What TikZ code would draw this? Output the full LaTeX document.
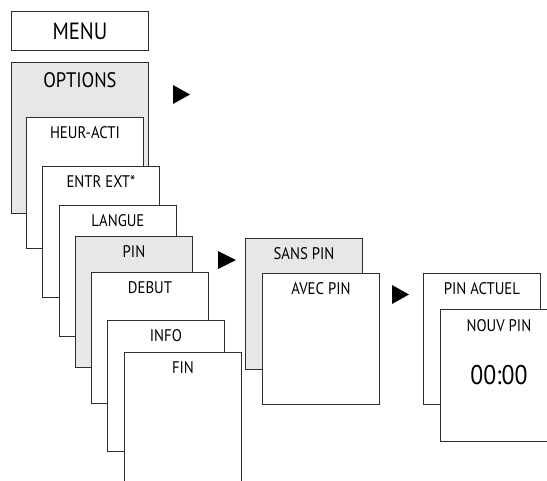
\documentclass[tikz,border=0pt]{standalone}
\usepackage{fontspec}
\setmainfont{PT Sans}[FakeStretch=0.88]
\definecolor{panel}{HTML}{E6E7E9}
\definecolor{edge}{HTML}{2E2E2E}
\begin{document}
\begin{tikzpicture}[x=1pt,y=-1pt,
  box/.style={draw=edge,line width=0.9pt,fill=white,rectangle,anchor=north west,inner sep=0pt,minimum width=117pt,minimum height=131pt},
  grey/.style={fill=panel},
  lbl/.style={font=\fontsize{16.8}{16.8}\selectfont,inner sep=0pt,anchor=center},
  tri/.style={fill=black}]
\useasboundingbox (0,0) rectangle (547,480);
\clip (0,0) rectangle (547,480);
% MENU
\node[box,minimum width=137pt,minimum height=39pt] (menu) at (11,11) {};
\node[font=\fontsize{23.5}{23.5}\selectfont,inner sep=0pt] (menut) at (menu.center) {MENU};
% OPTIONS stack
\node[box,grey,minimum width=137pt,minimum height=151pt] (opt) at (11,62) {};
\node[font=\fontsize{21}{21}\selectfont,inner sep=0pt] (optt) at ([yshift=-18pt]opt.north) {OPTIONS};
\node[box] (heur) at (26,117) {};
\node[lbl] (heurt) at ([yshift=-16pt]heur.north) {HEUR-ACTI};
\node[box] (entr) at (42,166) {};
\node[lbl] (entrt) at ([yshift=-16pt]entr.north) {ENTR EXT*};
\node[box] (lang) at (59,205) {};
\node[lbl] (langt) at ([yshift=-16pt]lang.north) {LANGUE};
\node[box,grey] (pin) at (75,236) {};
\node[lbl] (pint) at ([yshift=-16pt]pin.north) {PIN};
\node[box] (debut) at (91,272) {};
\node[lbl] (debutt) at ([yshift=-16pt]debut.north) {DEBUT};
\node[box] (info) at (107,320) {};
\node[lbl] (infot) at ([yshift=-16pt]info.north) {INFO};
\node[box] (fin) at (124,352) {};
\node[lbl] (fint) at ([yshift=-16pt]fin.north) {FIN};
% PIN submenu
\node[box,grey] (sans) at (245,238) {};
\node[lbl] (sanst) at ([yshift=-16pt]sans.north) {SANS PIN};
\node[box] (avec) at (262,273) {};
\node[lbl] (avect) at ([yshift=-16pt]avec.north) {AVEC PIN};
% PIN change
\node[box] (act) at (423,273) {};
\node[lbl] (actt) at ([yshift=-16pt]act.north) {PIN ACTUEL};
\node[box,minimum height=132pt] (nouv) at (440,309) {};
\node[lbl] (nouvt) at ([yshift=-17pt]nouv.north) {NOUV PIN};
\node[font=\fontsize{27}{27}\selectfont,inner sep=0pt] (time) at ([yshift=-66pt]nouv.north) {00:00};
% arrow markers
\fill[tri] (173,85) -- (190,94.5) -- (173,104) -- cycle;
\fill[tri] (218,251) -- (236,260) -- (218,269) -- cycle;
\fill[tri] (392,285) -- (409,294.5) -- (392,304) -- cycle;
\end{tikzpicture}
\end{document}
